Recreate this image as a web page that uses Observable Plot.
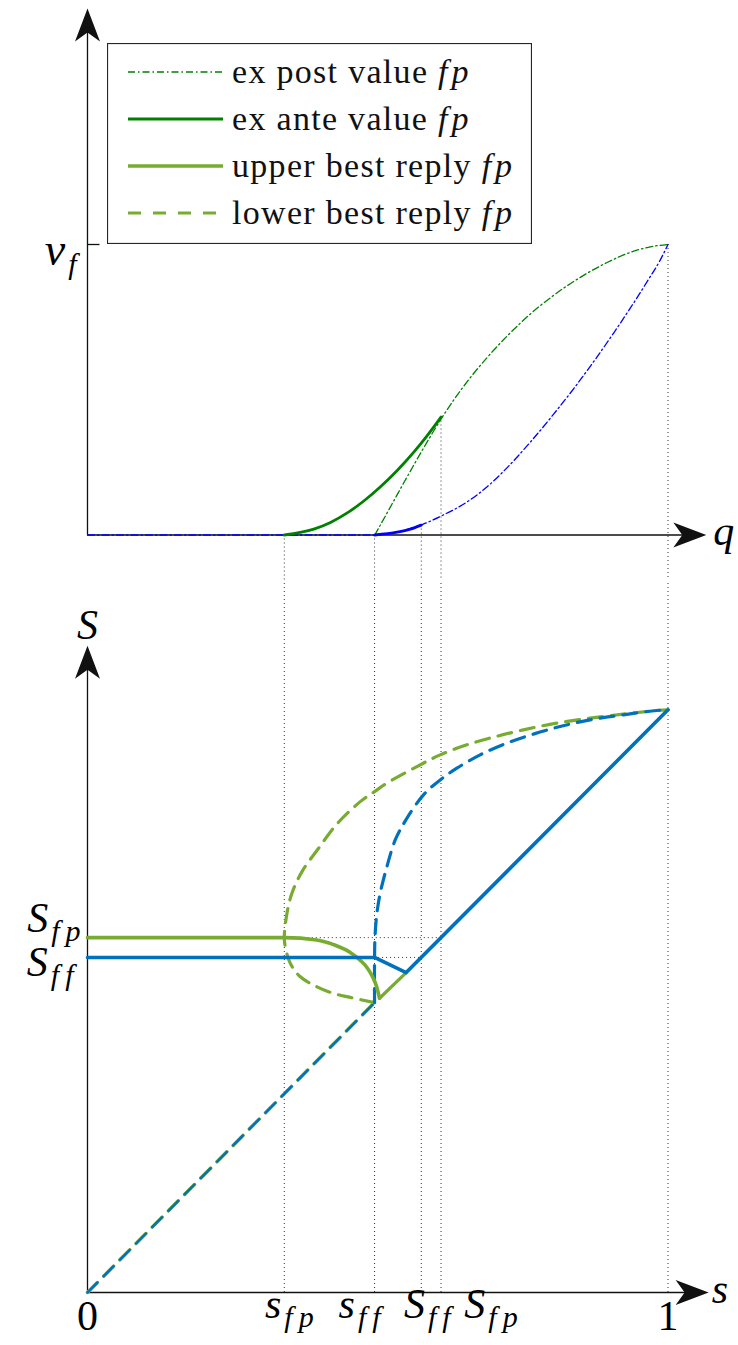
<!DOCTYPE html>
<html><head><meta charset="utf-8">
<script src="https://cdn.jsdelivr.net/npm/d3@7"></script>
<script src="https://cdn.jsdelivr.net/npm/@observablehq/plot@0.6"></script>
<style>
html,body{margin:0;padding:0;background:#fff;}
#wrap{position:relative;width:738px;height:1345px;overflow:hidden;background:#fff;}
#wrap > svg{display:block;}
#legend{position:absolute;left:107px;top:43px;}
</style></head><body><div id="wrap"></div>
<script>
// ---------------- data ----------------
const s_fp = 0.339, s_ff = 0.4945, S_ff = 0.575, S_fp = 0.609;
const v_f = 1;

const xTickValues = [0, s_fp, s_ff, S_ff, S_fp, 1];
const xTickLabels = ["0", "s_fp", "s_ff", "S_ff", "S_fp", "1"];
const yTickValuesBottom = [S_fp, S_ff];
const yTickLabelsBottom = ["S_fp", "S_ff"];
const yTickValuesTop = [v_f];
const yTickLabelsTop = ["v_f"];
const axisNamesTop = ["q"];
const axisNamesBottom = ["s", "S"];

// top panel: [q, value]
const exPostFp = [[0.4949,0],[0.52,0.09],[0.55,0.198],[0.58,0.303],[0.61,0.402],[0.631,0.465],[0.66,0.543],[0.6885,0.611],[0.723,0.685],[0.763,0.761],[0.803,0.825],[0.849,0.887],[0.895,0.938],[0.941,0.977],[0.975,0.994],[1,1]];
const exPostFf = [[0,0],[0.4949,0],[0.522,0.006],[0.5507,0.019],[0.5766,0.036],[0.611,0.067],[0.654,0.114],[0.6885,0.166],[0.723,0.232],[0.763,0.32],[0.803,0.416],[0.838,0.505],[0.872,0.597],[0.907,0.697],[0.935,0.781],[0.964,0.872],[0.987,0.948],[1,1]];
const exAnteFp = [[0.339,0],[0.3898,0.02],[0.4186,0.043],[0.4474,0.076],[0.476,0.117],[0.5047,0.166],[0.5335,0.222],[0.5621,0.285],[0.5852,0.342],[0.609,0.406]];
const exAnteFf = [[0.4949,0],[0.5335,0.0096],[0.556,0.02],[0.575,0.034]];
const topGuides = [[s_fp,0],[s_ff,0],[S_ff,0.034],[S_fp,0.406],[1,v_f]];

// bottom panel: [s, S]
const lowerBestReplyFp = [[0.4945,0.4975],[0.4527,0.5064],[0.4239,0.5132],[0.3954,0.5246],[0.3666,0.5418],[0.3494,0.5648],[0.3408,0.5933],[0.339,0.609],[0.3437,0.6512],[0.3523,0.6856],[0.3695,0.7222],[0.3981,0.7624],[0.4298,0.8041],[0.4699,0.8424],[0.4945,0.8596],[0.5158,0.8741],[0.5675,0.9026],[0.6076,0.9227],[0.6535,0.9399],[0.6993,0.9531],[0.7509,0.9656],[0.8084,0.9771],[0.8657,0.9857],[0.9231,0.9926],[0.9805,0.9988],[1,1]];
const lowerBestReplyFf = [[0.4945,0.4975],[0.4945,0.575],[0.4955,0.615],[0.4986,0.6512],[0.5043,0.6856],[0.5158,0.7308],[0.5301,0.7766],[0.5485,0.811],[0.5788,0.854],[0.6076,0.8797],[0.6363,0.8998],[0.6764,0.9227],[0.7223,0.9428],[0.7681,0.9583],[0.8141,0.9713],[0.8657,0.9828],[0.9231,0.9914],[0.9805,0.9988],[1,1]];
const upperBestReplyFpCurve = [[0,0.609],[0.339,0.609],[0.395,0.605],[0.424,0.597],[0.452,0.584],[0.47,0.57],[0.482,0.557],[0.491,0.542],[0.498,0.525],[0.503,0.505]];
const upperBestReplyFpKink = [[0.503,0.505],[0.549,0.549]];
const upperBestReplyFf = [[0,0.575],[0.4945,0.575],[0.549,0.549],[1,1]];
const diagonalLow = [[0,0],[0.4945,0.4975]];
const bottomGuidesV = [s_fp, s_ff, S_ff, S_fp, 1];
const bottomGuidesH = [[s_fp, S_fp, S_fp],[s_ff, S_ff, S_ff]]; // [from, to, level]

// legend
const legendLabels = ["ex post value ", "ex ante value ", "upper best reply ", "lower best reply "];
const legendSuffix = "fp";

// ---------------- style / layout ----------------
const C_DARKGREEN = "#008000", C_BLUE = "#0000ff", C_LGREEN = "#77AC30", C_MBLUE = "#0072BD";
const DASHDOT = "7,3,1.5,3", DASHED = "14,9", DOTTED = "1,3";
const MATH = "'Liberation Serif', 'Tinos', 'Times New Roman', serif";
const MAIN_SIZE = 42, SUB_SIZE = 30;
const W = 738, ML = 87, MR = 70.5;
const topH = 580, topMT = 244, topMB = 45.5;
const botH = 765, botMT = 129.3, botMB = 53;
const topEdgeLow = -topMB / (topH - topMT - topMB);
const botEdgeHigh = 1 + botMT / (botH - botMT - botMB);
const topAxisXEnd = 1.066, topAxisYEnd = 1.812;
const botAxisXEnd = 1.070, botAxisYEnd = 1.110;
const tickLen = 0.0215;
const xLabelDx = [0, 5, -15, 6, 50, 0];

const ARROW_UP = {draw(ctx){ctx.moveTo(0,0);ctx.lineTo(12.5,33);ctx.lineTo(0,24);ctx.lineTo(-12.5,33);ctx.closePath();}};
const ARROW_RIGHT = {draw(ctx){ctx.moveTo(0,0);ctx.lineTo(-33,-12.5);ctx.lineTo(-24,0);ctx.lineTo(-33,12.5);ctx.closePath();}};

const X = d => d[0], Y = d => d[1];
const mathText = {fontFamily: MATH, fontSize: MAIN_SIZE, fontStyle: "italic", fill: "black"};

function subscriptify(root) {
  d3.select(root).selectAll("text").each(function() {
    const t = this.textContent;
    const k = t.indexOf("_");
    if (k < 0) return;
    const sel = d3.select(this);
    sel.text(null);
    sel.append("tspan").text(t.slice(0, k));
    const sub = t.slice(k + 1);
    [...sub].forEach((ch, j) => {
      const ts = sel.append("tspan").attr("font-size", SUB_SIZE).attr("dx", j === 0 ? 3 : 6).text(ch);
      if (j === 0) ts.attr("dy", 9);
    });
  });
}

// ---------------- top panel ----------------
const topPlot = Plot.plot({
  width: W, height: topH,
  marginLeft: ML, marginRight: MR, marginTop: topMT, marginBottom: topMB,
  x: {domain: [0, 1], axis: null},
  y: {domain: [0, 1], axis: null},
  style: {background: "transparent", overflow: "hidden", fontFamily: MATH},
  marks: [
    Plot.ruleX(topGuides, {x: X, y1: Y, y2: () => topEdgeLow, stroke: "#333", strokeWidth: 1, strokeDasharray: DOTTED}),
    Plot.ruleY([0], {x1: () => 0, x2: () => topAxisXEnd - 0.02, stroke: "#111", strokeWidth: 1.3}),
    Plot.ruleX([0], {y1: () => 0, y2: () => topAxisYEnd - 0.04, stroke: "#111", strokeWidth: 1.3}),
    Plot.ruleY(yTickValuesTop, {x1: () => 0, x2: () => tickLen, stroke: "#111", strokeWidth: 1.3}),
    Plot.line(exPostFp, {x: X, y: Y, stroke: C_DARKGREEN, strokeWidth: 1.3, strokeDasharray: DASHDOT, curve: "monotone-x"}),
    Plot.line(exPostFf, {x: X, y: Y, stroke: C_BLUE, strokeWidth: 1.3, strokeDasharray: DASHDOT, curve: "monotone-x"}),
    Plot.line(exAnteFp, {x: X, y: Y, stroke: C_DARKGREEN, strokeWidth: 2.8, curve: "monotone-x"}),
    Plot.line(exAnteFf, {x: X, y: Y, stroke: C_BLUE, strokeWidth: 2.8, curve: "monotone-x"}),
    Plot.dot([[0, topAxisYEnd]], {x: X, y: Y, symbol: ARROW_UP, fill: "#111", stroke: "none"}),
    Plot.dot([[topAxisXEnd, 0]], {x: X, y: Y, symbol: ARROW_RIGHT, fill: "#111", stroke: "none"}),
    Plot.text(yTickValuesTop, {x: () => 0, y: d => d, text: (d, i) => yTickLabelsTop[i], textAnchor: "end", dx: -11, dy: 6, ...mathText, fontSize: 46}),
    Plot.text(axisNamesTop, {x: () => topAxisXEnd, y: () => 0, text: d => d, textAnchor: "start", dx: 7, dy: -3, ...mathText})
  ]
});

// ---------------- bottom panel ----------------
const xLabelMarks = xTickValues.map((v, i) => {
  const isNum = /^\d/.test(xTickLabels[i]);
  return Plot.text([v], {x: d => d, y: () => 0, text: () => xTickLabels[i], textAnchor: "middle",
    dx: xLabelDx[i], dy: isNum ? 24 : 12.5, ...mathText, fontStyle: isNum ? "normal" : "italic"});
});

const bottomPlot = Plot.plot({
  width: W, height: botH,
  marginLeft: ML, marginRight: MR, marginTop: botMT, marginBottom: botMB,
  x: {domain: [0, 1], axis: null},
  y: {domain: [0, 1], axis: null},
  style: {background: "transparent", overflow: "hidden", fontFamily: MATH},
  marks: [
    Plot.ruleX(bottomGuidesV, {x: d => d, y1: () => 0, y2: () => botEdgeHigh, stroke: "#333", strokeWidth: 1, strokeDasharray: DOTTED}),
    Plot.ruleY(bottomGuidesH, {y: d => d[2], x1: d => d[0], x2: d => d[1], stroke: "#333", strokeWidth: 1, strokeDasharray: DOTTED}),
    Plot.ruleY([0], {x1: () => 0, x2: () => botAxisXEnd - 0.02, stroke: "#111", strokeWidth: 1.3}),
    Plot.ruleX([0], {y1: () => 0, y2: () => botAxisYEnd - 0.02, stroke: "#111", strokeWidth: 1.3}),
    Plot.line(diagonalLow, {x: X, y: Y, stroke: C_LGREEN, strokeWidth: 3.5, strokeDasharray: DASHED}),
    Plot.line(diagonalLow, {x: X, y: Y, stroke: C_MBLUE, strokeWidth: 2.4, strokeDasharray: DASHED}),
    Plot.line(lowerBestReplyFp, {x: X, y: Y, stroke: C_LGREEN, strokeWidth: 3.2, strokeDasharray: DASHED, curve: "catmull-rom"}),
    Plot.line(lowerBestReplyFf, {x: X, y: Y, stroke: C_MBLUE, strokeWidth: 3.2, strokeDasharray: DASHED, curve: "catmull-rom"}),
    Plot.line(upperBestReplyFpCurve, {x: X, y: Y, stroke: C_LGREEN, strokeWidth: 3.6, curve: "monotone-x"}),
    Plot.line(upperBestReplyFpKink, {x: X, y: Y, stroke: C_LGREEN, strokeWidth: 3.2}),
    Plot.line(upperBestReplyFf, {x: X, y: Y, stroke: C_MBLUE, strokeWidth: 3.6}),
    Plot.dot([[0, botAxisYEnd]], {x: X, y: Y, symbol: ARROW_UP, fill: "#111", stroke: "none"}),
    Plot.dot([[botAxisXEnd, 0]], {x: X, y: Y, symbol: ARROW_RIGHT, fill: "#111", stroke: "none"}),
    Plot.text([axisNamesBottom[1]], {x: () => 0, y: () => botAxisYEnd, text: d => d, textAnchor: "middle", dy: -20, ...mathText}),
    Plot.text([axisNamesBottom[0]], {x: () => botAxisXEnd, y: () => 0, text: d => d, textAnchor: "start", dx: 3, dy: -3, ...mathText}),
    Plot.text([yTickValuesBottom[0]], {x: () => 0, y: d => d, text: () => yTickLabelsBottom[0], textAnchor: "end", dx: -7, dy: -19, ...mathText}),
    Plot.text([yTickValuesBottom[1]], {x: () => 0, y: d => d, text: () => yTickLabelsBottom[1], textAnchor: "end", dx: -14, dy: 5, ...mathText}),
    ...xLabelMarks
  ]
});

subscriptify(topPlot);
subscriptify(bottomPlot);
const wrap = document.getElementById("wrap");
wrap.appendChild(topPlot);
wrap.appendChild(bottomPlot);

// ---------------- legend ----------------
const legStyles = [
  {stroke: C_DARKGREEN, width: 1.3, dash: DASHDOT},
  {stroke: C_DARKGREEN, width: 3, dash: null},
  {stroke: C_LGREEN, width: 3.5, dash: null},
  {stroke: C_LGREEN, width: 3, dash: "13,12"}
];
const leg = d3.select(wrap).append("svg").attr("id", "legend").attr("width", 425).attr("height", 201);
leg.append("rect").attr("x", 0.5).attr("y", 0.5).attr("width", 424).attr("height", 200)
  .attr("fill", "white").attr("stroke", "#262626").attr("stroke-width", 1.2);
legendLabels.forEach((lab, i) => {
  const cy = 29 + i * 47;
  const st = legStyles[i];
  leg.append("line").attr("x1", 21).attr("x2", 116).attr("y1", cy).attr("y2", cy)
    .attr("stroke", st.stroke).attr("stroke-width", st.width).attr("stroke-dasharray", st.dash);
  const t = leg.append("text").attr("x", 125).attr("y", cy).attr("dy", "0.32em")
    .attr("font-family", MATH).attr("font-size", 34).attr("letter-spacing", "1.3px").attr("fill", "#111");
  t.append("tspan").text(lab);
  t.append("tspan").attr("font-style", "italic").attr("letter-spacing", "4px").text(legendSuffix);
});
</script></body></html>
